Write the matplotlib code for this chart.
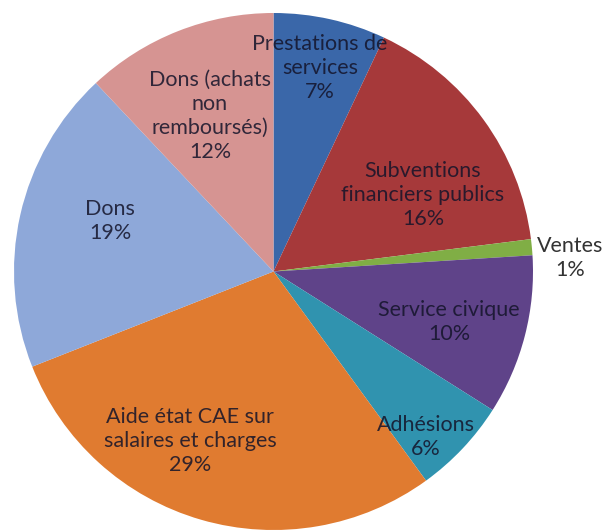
import matplotlib
matplotlib.use("Agg")
import matplotlib.pyplot as plt

categories = ["Prestations de\nservices", "Subventions\nfinanciers publics", "Ventes",
              "Service civique", "Adhésions", "Aide état CAE sur\nsalaires et charges",
              "Dons", "Dons (achats\nnon\nremboursés)"]
values = [7, 16, 1, 10, 6, 29, 19, 12]
colors = ["#3A67A9", "#A6393A", "#80AE45", "#5F4389", "#3093AF", "#E07B30", "#8EA8D9", "#D69492"]

# label block centres in pixels (x, y from top)
label_pos = [(320, 68), (423, 195), (570, 258), (449, 322), (426, 437), (190, 441), (110, 221), (210, 116)]

W, H = 605, 531
fig = plt.figure(figsize=(W / 100, H / 100), dpi=100)
ax = fig.add_axes([0, 0, 1, 1])
ax.pie(values, colors=colors, startangle=90, counterclock=False,
       wedgeprops=dict(linewidth=0), radius=1)
cx, cy, rx, ry = 273.5, 271.5, 259.5, 258.5
ax.set_aspect("auto")
ax.set_xlim(-cx / rx, (W - cx) / rx)
ax.set_ylim(-(H - cy) / ry, cy / ry)
ax.axis("off")

for i, (cat, v, (px, py)) in enumerate(zip(categories, values, label_pos)):
    if i == 2:
        tc, a = "#333333", 1.0
    else:
        tc, a = "#14142A", 0.85
    fig.text(px / W, 1 - py / H, f"{cat}\n{v}%", ha="center", va="center",
             fontsize=15.5, family=["Lato", "DejaVu Sans"], color=tc, alpha=a,
             linespacing=1.25)

fig.savefig("out.png", dpi=100)
